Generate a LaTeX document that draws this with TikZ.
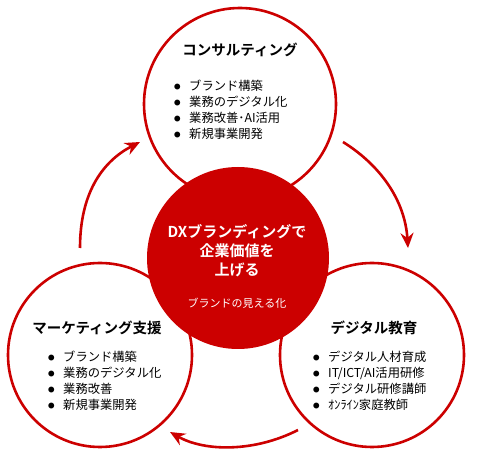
\documentclass[tikz,border=0pt]{standalone}
\usepackage{fontspec}
\setmainfont{Noto Sans CJK JP}[BoldFont={Noto Sans CJK JP Bold}]
\usetikzlibrary{arrows.meta}
\definecolor{brandred}{RGB}{204,0,0}
\newcommand{\itm}{\makebox[15pt][l]{\raisebox{1pt}{\fontsize{6.5}{6.5}\selectfont ●}}}
\tikzset{
	ring/.style={circle, draw=brandred, line width=2.6pt, minimum size=#1, inner sep=0pt},
	core/.style={circle, fill=brandred, minimum size=182pt, inner sep=0pt},
	title/.style={font=\fontsize{14.5}{16}\selectfont\bfseries},
	items/.style={anchor=north west, align=left, inner sep=0pt, font=\fontsize{12.3}{16}\selectfont},
	flow/.style={draw=brandred, line width=2.6pt, -{Stealth[length=15pt,width=13pt,inset=5pt]}},
}
\begin{document}
\begin{tikzpicture}[x=1pt,y=-1pt]
	\useasboundingbox (0,0) rectangle (480,449);
	\node [ring=192pt] (consult) at (240,104) {};
	\node [ring=184pt] (market) at (100,355) {};
	\node [ring=184pt] (edu) at (372,355) {};
	\node [core] (dx) at (238,258) {};
	% texts
	\node [title] (consult-t) at (240,50) {コンサルティング};
	\node [items] (consult-l) at (174,80) {\itm ブランド構築\\ \itm 業務のデジタル化\\ \itm 業務改善･AI活用\\ \itm 新規事業開発};
	\node [title] (market-t) at (97,328) {マーケティング支援};
	\node [items] (market-l) at (48,351) {\itm ブランド構築\\ \itm 業務のデジタル化\\ \itm 業務改善\\ \itm 新規事業開発};
	\node [title] (edu-t) at (374,328) {デジタル教育};
	\node [items] (edu-l) at (313,351) {\itm デジタル人材育成\\ \itm IT/ICT/AI活用研修\\ \itm デジタル研修講師\\ \itm ｵﾝﾗｲﾝ家庭教師};
	\node [text=white, align=center, font=\fontsize{15}{19}\selectfont\bfseries] (dx-t) at (237,251) {DXブランディングで\\企業価値を\\上げる};
	\node [text=white, font=\fontsize{11}{13}\selectfont] (dx-s) at (237,303) {ブランドの見える化};
	% arrows
	\coordinate (m-out) at (80,248);
	\coordinate (c-in) at (140,142);
	\coordinate (c-out) at (343,142);
	\coordinate (e-in) at (408,248);
	\coordinate (e-out) at (298,430);
	\coordinate (m-in) at (170,432);
	\draw [flow] (m-out) .. controls (80,190) and (105,160) .. (c-in);
	\draw [flow] (c-out) .. controls (380,165) and (405,200) .. (e-in);
	\draw [flow] (e-out) .. controls (255,452) and (205,452) .. (m-in);
\end{tikzpicture}
\end{document}
